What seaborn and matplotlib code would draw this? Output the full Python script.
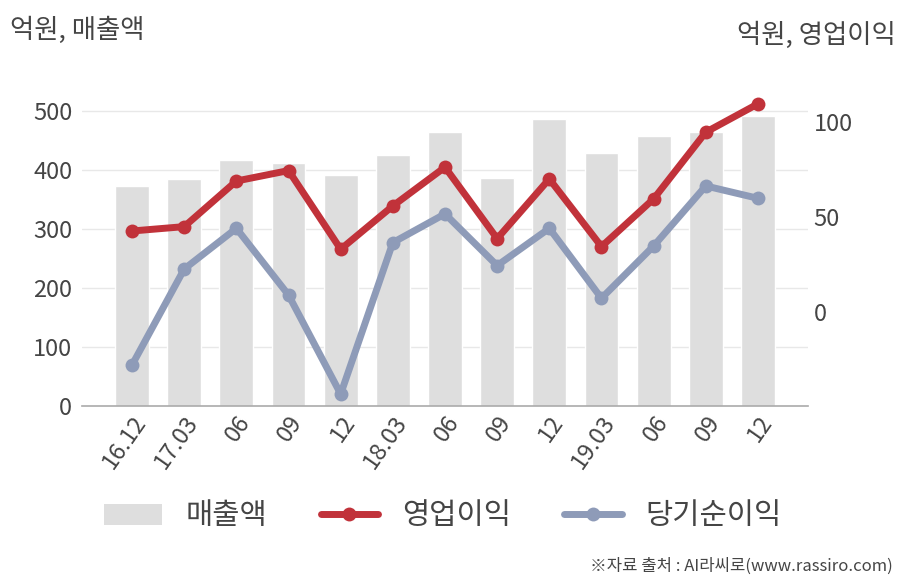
import matplotlib
matplotlib.use("Agg")
import matplotlib.pyplot as plt
import matplotlib.transforms as mtransforms
import seaborn as sns
import pandas as pd
from matplotlib.patches import Patch
from matplotlib.lines import Line2D

categories = ["16.12", "17.03", "06", "09", "12", "18.03", "06", "09", "12", "19.03", "06", "09", "12"]
sales = [373, 385, 417, 412, 392, 425, 464, 387, 486, 429, 458, 464, 491]
op_income = [42.6, 44.9, 68.9, 74.4, 33.0, 55.8, 76.2, 38.6, 70.0, 34.4, 59.5, 94.6, 109.5]
net_income = [-27.9, 22.6, 44.0, 8.9, -43.2, 36.5, 51.6, 24.4, 44.0, 7.2, 34.7, 66.3, 59.8]
left_ticks = [0, 100, 200, 300, 400, 500]
right_ticks = [0, 50, 100]

sns.set_theme(style="white")
plt.rcParams['font.family'] = ['Noto Sans CJK KR', 'DejaVu Sans']

BAR_C = "#dedede"
RED = "#c1323a"
BLUE = "#8e9bb8"
TXT = "#454545"

df = pd.DataFrame({"idx": list(range(len(categories))), "sales": sales,
                   "op": op_income, "net": net_income})

fig = plt.figure(figsize=(9.08, 5.8), dpi=100)
ax = fig.add_axes([82/908, 1 - 406/580, 726/908, 354/580])
sns.barplot(data=df, x="idx", y="sales", color=BAR_C, width=0.65, ax=ax,
            saturation=1, zorder=2)
ax.set_ylim(0, 600)
ax.set_xlim(-0.96, 12.96)
ax.set_yticks(left_ticks)
ax.set_yticklabels([str(t) for t in left_ticks])
ax.set_xticks(range(len(categories)))
ax.set_xticklabels(categories, rotation=55, ha="right", rotation_mode="anchor")
offset = mtransforms.ScaledTranslation(5/100, 0, fig.dpi_scale_trans)
for lbl in ax.get_xticklabels():
    lbl.set_transform(lbl.get_transform() + offset)
for t in left_ticks[1:]:
    ax.axhline(t, color="#e8e8e8", lw=1, zorder=0)
ax.set_xlabel("")
ax.set_ylabel("")
for s in ["top", "right", "left"]:
    ax.spines[s].set_visible(False)
ax.spines["bottom"].set_color("#aaaaaa")
ax.spines["bottom"].set_linewidth(1.2)
ax.tick_params(axis="both", length=0, labelsize=17, colors=TXT)
ax.tick_params(axis="y", pad=7)
ax.tick_params(axis="x", pad=4)

ax2 = ax.twinx()
sns.lineplot(x=df["idx"], y=df["op"], ax=ax2, color=RED, lw=5, marker="o",
             markersize=10, markeredgewidth=0, zorder=4)
sns.lineplot(x=df["idx"], y=df["net"], ax=ax2, color=BLUE, lw=5, marker="o",
             markersize=10, markeredgewidth=0, zorder=3)
ax2.set_ylim(-49.5, 136.8)
ax2.set_yticks(right_ticks)
ax2.set_yticklabels([str(t) for t in right_ticks])
ax2.set_xlim(-0.96, 12.96)
ax2.set_ylabel("")
ax2.set_xlabel("")
for s in ax2.spines.values():
    s.set_visible(False)
ax2.tick_params(axis="y", length=0, labelsize=17, colors=TXT, pad=4)

fig.text(10/908, 1 - 30/580, "억원, 매출액", fontsize=19, color=TXT, va="center", ha="left")
fig.text(896/908, 1 - 35/580, "억원, 영업이익", fontsize=19, color=TXT, va="center", ha="right")

handles = [
    Patch(facecolor=BAR_C, edgecolor="none"),
    Line2D([0], [0], color=RED, lw=5, marker="o", markersize=10, markeredgewidth=0),
    Line2D([0], [0], color=BLUE, lw=5, marker="o", markersize=10, markeredgewidth=0),
]
fig.legend(handles, ["매출액", "영업이익", "당기순이익"], loc="center",
           bbox_to_anchor=(443/908, 1 - 516/580), ncol=3, frameon=False,
           fontsize=21.3, handlelength=1.95, handleheight=0.7, columnspacing=1.8,
           handletextpad=0.8, labelcolor=TXT)

fig.text(893/908, 1 - 566/580, "※자료 출처 : AI라씨로(www.rassiro.com)", fontsize=12,
         color=TXT, ha="right", va="center")

fig.savefig("out.png", dpi=100)
